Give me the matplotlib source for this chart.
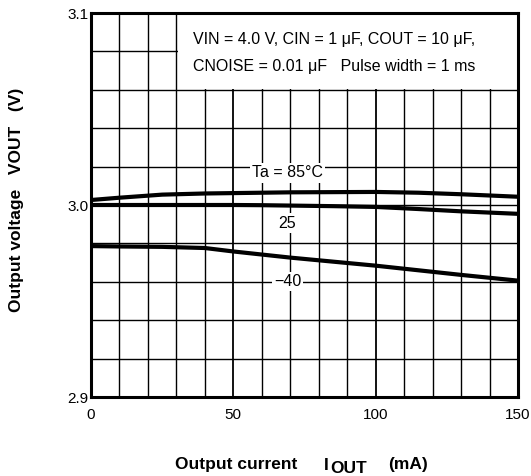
import matplotlib.pyplot as plt
import matplotlib.patches as mpatches

plt.rcParams['font.family'] = ['Liberation Sans', 'DejaVu Sans']

# Output current (mA) vs output voltage (V) per ambient temperature
iout = [0, 10, 25, 40, 50, 60, 70, 85, 100, 115, 130, 150]
vout_85 = [3.0026, 3.0038, 3.0054, 3.0060, 3.0062, 3.0064, 3.0066, 3.0067, 3.0068, 3.0064, 3.0056, 3.0043]
vout_25 = [3.0000, 3.0000, 3.0000, 3.0000, 3.0000, 2.9999, 2.9997, 2.9994, 2.9990, 2.9979, 2.9967, 2.9954]
vout_m40 = [2.9786, 2.9784, 2.9782, 2.9776, 2.9758, 2.9742, 2.9726, 2.9705, 2.9684, 2.9660, 2.9636, 2.9606]

curve_labels = ["Ta = 85°C", "25", "−40"]
label_pos = [(69, 3.0167), (69, 2.9906), (69, 2.960)]

cond_line1 = "VIN = 4.0 V, CIN = 1 μF, COUT = 10 μF,"
cond_line2 = "CNOISE = 0.01 μF   Pulse width = 1 ms"

xticks = [0, 50, 100, 150]
yticks = [2.9, 3.0, 3.1]

W, H = 531, 476
fig = plt.figure(figsize=(W / 100, H / 100), dpi=100)
ax = fig.add_axes([91 / W, 1 - 397 / H, 427 / W, 384 / H])
ax.set_xlim(0, 150)
ax.set_ylim(2.9, 3.1)

# grid
for x in range(10, 150, 10):
    lw = 1.3 if x in (50, 100) else 1.0
    ax.axvline(x, color='black', lw=lw, zorder=1)
for k in range(1, 10):
    ax.axhline(2.9 + 0.02 * k, color='black', lw=1.0, zorder=1)

# conditions box masks the grid
ax.add_patch(mpatches.Rectangle((30.4, 3.0605), 119.6, 0.0395, facecolor='white',
                                edgecolor='none', zorder=2))
ax.text(35.8, 3.086, cond_line1, fontsize=11.5, va='center', ha='left', zorder=3)
ax.text(35.8, 3.0719, cond_line2, fontsize=11.5, va='center', ha='left', zorder=3)

# curves
for v in (vout_85, vout_25, vout_m40):
    ax.plot(iout, v, color='black', lw=3, solid_capstyle='butt', zorder=4)

for lbl, (lx, ly) in zip(curve_labels, label_pos):
    ax.text(lx, ly, lbl, fontsize=11.5, ha='center', va='center', zorder=5,
            bbox=dict(facecolor='white', edgecolor='none', pad=1.5))

for s in ax.spines.values():
    s.set_linewidth(2.2)
    s.set_zorder(6)

ax.set_xticks(xticks)
ax.set_xticklabels([str(t) for t in xticks])
ax.set_yticks(yticks)
ax.set_yticklabels(["%.1f" % t for t in yticks])
ax.tick_params(length=0, labelsize=11)
ax.tick_params(axis='x', pad=8)
ax.tick_params(axis='y', pad=2)

fig.text(17 / W, 1 - 200 / H, "Output voltage   VOUT   (V)", rotation=90, fontsize=12.5,
         fontweight='bold', ha='center', va='center')
fig.text(175 / W, 1 - 469 / H, "Output current", fontsize=12.5, fontweight='bold',
         ha='left', va='baseline')
fig.text(324 / W, 1 - 470 / H, "I", fontsize=12.5, fontweight='bold', ha='left', va='baseline')
fig.text(330 / W, 1 - 473 / H, "OUT", fontsize=12.5, fontweight='bold', ha='left', va='baseline')
fig.text(388 / W, 1 - 469 / H, "(mA)", fontsize=12.5, fontweight='bold', ha='left', va='baseline')

fig.savefig("out.png", dpi=100)
